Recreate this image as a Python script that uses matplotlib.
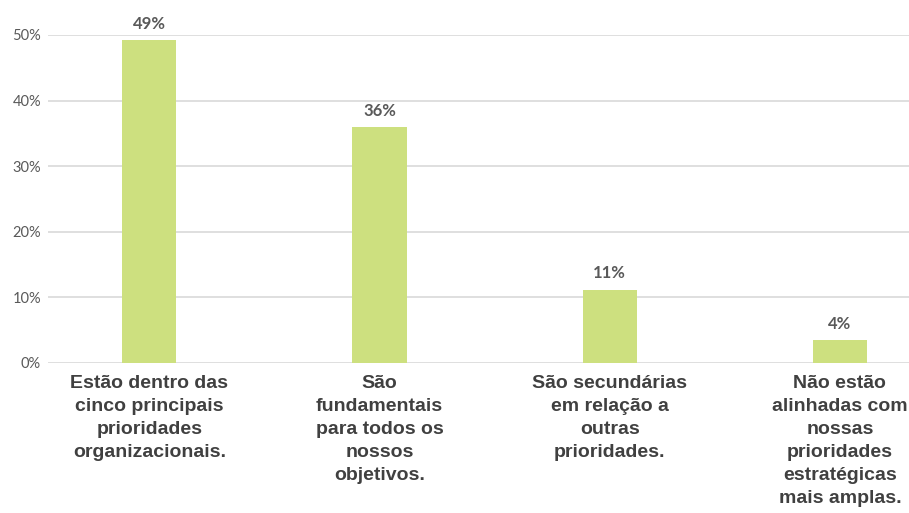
import matplotlib.pyplot as plt

categories = [
    "Estão dentro das\ncinco principais\nprioridades\norganizacionais.",
    "São\nfundamentais\npara todos os\nnossos\nobjetivos.",
    "São secundárias\nem relação a\noutras\nprioridades.",
    "Não estão\nalinhadas com\nnossas\nprioridades\nestratégicas\nmais amplas.",
]
values = [49.2, 35.9, 11.2, 3.5]
value_labels = ["49%", "36%", "11%", "4%"]
y_ticks = [0, 10, 20, 30, 40, 50]

W, H = 909, 513
fig = plt.figure(figsize=(W / 100, H / 100), dpi=100)
# axes from x=48 to 909 px, y=35 (50%) to 363 (0%)
ax = fig.add_axes([48 / W, 1 - 363 / H, (W - 48) / W, (363 - 35) / H])

x = range(len(categories))
bars = ax.bar(x, values, width=0.235, color="#cde07f", zorder=3)
ax.set_xlim(-0.44, 3.3)
ax.set_ylim(0, 50)

for b, lab in zip(bars, value_labels):
    ax.text(b.get_x() + b.get_width() / 2, b.get_height() + 1.3, lab,
            ha="center", va="bottom", fontsize=12, fontweight="bold",
            color="#595959", family="Lato", clip_on=False)

ax.set_yticks(y_ticks)
ax.set_yticklabels([f"{t}%" for t in y_ticks], family="Lato", fontsize=10.5, color="#595959")
ax.yaxis.grid(True, color="#d9d9d9", linewidth=1.2, zorder=0)
ax.tick_params(axis="y", length=0, pad=5)

ax.set_xticks(list(x))
ax.set_xticklabels(categories, fontsize=14, fontweight="bold", color="#404040",
                   family="Liberation Sans", linespacing=1.45)
ax.tick_params(axis="x", length=0, pad=9)

for s in ax.spines.values():
    s.set_visible(False)

fig.savefig("out.png", dpi=100)
